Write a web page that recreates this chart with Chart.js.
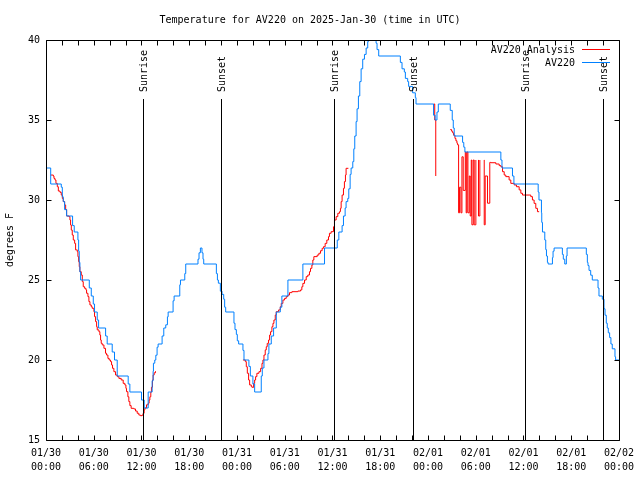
<!DOCTYPE html>
<html><head><meta charset="utf-8">
<script src="https://cdn.jsdelivr.net/npm/chart.js@4.4.1/dist/chart.umd.min.js"></script>
<style>html,body{margin:0;padding:0;background:#fff}canvas{display:block}</style>
</head><body>
<canvas id="c" width="640" height="480"></canvas>
<script>
// Hours since 2025-01-30 00:00 UTC
const blueHours = [0,0.59,1.92,2.05,2.17,2.34,2.59,3.34,3.55,4.01,4.10,4.18,4.26,4.35,5.44,5.69,5.94,6.10,6.44,6.61,7.49,7.69,8.32,8.61,8.95,10.33,10.54,12.00,12.34,12.84,13.34,13.46,13.50,13.67,13.80,13.96,14.09,14.59,14.80,15.05,15.26,15.35,15.97,16.10,16.81,16.90,17.44,17.56,19.10,19.23,19.40,19.60,19.73,19.82,21.41,21.54,21.66,21.91,22.12,22.33,22.45,22.58,23.62,23.75,23.92,24.04,24.21,24.75,24.88,25.50,25.68,26.00,26.22,27.05,27.18,27.39,27.89,28.01,28.31,28.60,28.94,29.44,29.64,30.40,32.28,35.00,36.60,36.80,37.21,37.38,37.59,37.71,37.92,38.05,38.22,38.34,38.55,38.68,38.80,38.97,39.09,39.26,39.43,39.60,39.80,40.02,40.23,40.43,40.51,41.00,41.48,41.60,41.81,44.53,44.74,45.03,45.16,45.45,45.57,46.07,46.41,46.50,48.70,48.90,49.13,49.30,50.80,51.05,51.18,51.30,52.35,52.50,52.64,57.16,57.30,58.62,58.80,61.85,61.95,62.26,62.30,62.39,62.68,62.80,62.89,63.01,63.10,63.64,63.72,63.85,64.89,65.01,65.19,65.39,65.48,67.90,68.03,68.11,68.24,68.45,68.65,69.37,69.49,69.91,70.12,70.25,70.41,70.53,70.66,70.83,70.99,71.16,71.50,71.58,72.00];
const blueTemps = [32,31,30.8,30.2,29.9,29.4,29,28.4,28,27.5,26.8,26.1,25.5,25,24.5,24,23.5,23,22.5,22,21.5,21,20.5,20,19,18.5,18,17.5,17,18,18.7,19.3,19.8,20,20.3,20.8,21,21.5,22,22.2,22.7,23,23.7,24,24.7,25,25.4,26,26.3,26.7,27,26.7,26.3,26,25.4,25,24.8,24.3,24.1,23.8,23.3,23,22.3,21.9,21.6,21.2,21,20.6,20,19.6,19,18.5,18,19,19.5,20,20.4,21,21.5,22,23,23.3,24,25,26,27,27.5,28,28.4,29,29.5,29.9,30.1,30.7,31.6,32,32.4,33.2,34,34.9,35.7,36.5,37.4,38.2,38.8,39.1,39.5,39.9,40.6,41,39.8,39.4,39,38.6,38.2,38,37.6,37.4,37.1,36.7,36.4,36,35.3,35,35.5,36,35.6,35,34.5,34,33.6,33.3,33,32.5,32,31.5,31,30.5,30,29.2,28.6,28,27.5,26.9,26.5,26.1,26,26.4,26.8,27,26.6,26.3,26,26.5,27,26.6,26.1,25.9,25.6,25.3,25,24.5,24,23.8,23.2,22.8,22.3,22,21.7,21.4,21,20.7,20.2,20,20];

const redHours = [0.585,0.92,1.00,1.13,1.25,1.42,1.55,1.76,1.92,2.05,2.17,2.34,2.47,2.59,2.89,3.01,3.09,3.18,3.30,3.43,3.60,3.72,3.93,4.01,4.10,4.18,4.26,4.43,4.56,4.68,4.85,5.02,5.10,5.27,5.39,5.52,5.69,5.81,6.02,6.10,6.23,6.36,6.44,6.65,6.77,6.86,6.94,7.07,7.28,7.48,7.61,7.78,7.94,8.11,8.24,8.36,8.53,8.74,8.95,9.16,9.45,9.70,9.91,10.04,10.12,10.29,10.41,10.54,10.70,11.04,11.25,11.46,11.67,11.87,12.08,12.21,12.33,12.42,12.63,12.84,12.96,13.05,13.17,13.25,13.38,13.46,13.59,13.76,14.00,
24.75,25.05,25.17,25.30,25.46,25.59,25.80,25.92,26.09,26.22,26.34,26.50,26.76,26.97,27.14,27.26,27.39,27.55,27.68,27.80,27.97,28.10,28.22,28.39,28.52,28.64,28.81,28.93,29.23,29.44,29.56,29.77,29.98,30.19,30.40,30.60,30.90,31.65,31.99,32.15,32.28,32.49,32.70,32.90,33.11,33.24,33.41,33.53,33.66,34.08,34.29,34.50,34.70,34.87,35.08,35.29,35.50,35.62,35.83,36.13,36.25,36.46,36.67,36.88,37.00,37.09,37.21,37.38,37.50,37.63,37.71,38.00,38.10,
48.72,48.85,48.98,49.05,
50.80,50.97,51.10,51.22,51.39,51.51,51.64,51.72,51.85,51.97,52.14,52.27,52.43,52.69,52.80,52.90,53.02,53.19,53.31,53.44,53.52,53.69,53.81,54.02,54.10,
54.33,54.35,54.52,54.60,
55.05,55.07,55.19,55.48,55.77,55.90,56.53,56.95,57.16,57.37,57.58,57.78,58.20,58.41,58.83,59.12,59.46,59.67,59.88,60.71,60.92,61.13,61.34,61.55,61.76,61.97];
const redTemps = [31.56,31.5,31.35,31.25,31.04,30.83,30.56,30.48,30.31,30.1,29.9,29.69,29.4,29.0,28.96,28.75,28.44,28.12,27.81,27.5,27.29,26.88,26.77,26.46,26.15,25.83,25.52,25.31,24.9,24.58,24.48,24.38,24.17,23.96,23.65,23.44,23.33,23.23,23.02,22.71,22.4,22.08,21.88,21.77,21.56,21.25,21.04,20.94,20.73,20.42,20.31,20.1,20.0,19.9,19.69,19.48,19.27,19.06,18.96,18.85,18.75,18.54,18.44,18.23,18.02,17.7,17.4,17.15,16.98,16.94,16.81,16.67,16.56,16.52,16.56,16.67,16.88,17.0,17.2,17.3,17.5,17.7,18.0,18.3,18.75,19.06,19.2,19.3,null,
20.0,19.9,19.58,19.17,18.75,18.44,18.33,18.29,18.54,18.75,18.96,19.17,19.27,19.48,19.79,20.0,20.31,20.63,20.83,21.04,21.25,21.56,21.77,22.08,22.29,22.5,22.81,23.02,23.13,23.33,23.54,23.75,23.85,23.96,24.06,24.21,24.27,24.31,24.38,24.58,24.79,25.0,25.21,25.31,25.52,25.73,25.94,26.25,26.46,26.56,26.67,26.83,26.98,27.08,27.29,27.5,27.71,27.92,28.02,28.33,28.75,28.96,29.17,29.27,29.48,29.9,30.31,30.73,31.15,31.56,31.98,31.98,null,
36.0,35.0,31.5,null,
34.4,34.3,34.2,34.05,33.85,33.7,33.55,33.45,29.2,30.8,29.2,32.7,30.6,33.0,29.2,33.0,29.2,31.5,29.0,32.5,28.45,32.5,28.45,32.5,null,
32.5,29.0,32.5,null,
32.5,28.45,31.5,29.8,32.35,32.33,32.25,32.15,32.08,31.77,31.56,31.46,31.25,31.04,30.94,30.83,30.63,30.42,30.31,30.31,30.21,30.0,29.79,29.48,29.27,29.27];

const xTickHours = [0,6,12,18,24,30,36,42,48,54,60,66,72];
const xTickDates = ['01/30','01/30','01/30','01/30','01/31','01/31','01/31','01/31','02/01','02/01','02/01','02/01','02/02'];
const xTickTimes = ['00:00','06:00','12:00','18:00','00:00','06:00','12:00','18:00','00:00','06:00','12:00','18:00','00:00'];
const sunHours = [12.2,22.04,36.17,46.08,60.25,70.03];
const sunLabels = ['Sunrise','Sunset','Sunrise','Sunset','Sunrise','Sunset'];
const seriesNames = ['AV220 Analysis','AV220'];
const seriesColors = ['#ff0000','#0080ff'];
const titleText = 'Temperature for AV220 on 2025-Jan-30 (time in UTC)';
const yTitle = 'degrees F';

const FONT = "'DejaVu Sans Mono', 'Liberation Mono', monospace";
Chart.defaults.font.family = FONT;
Chart.defaults.font.size = 10;
Chart.defaults.color = '#000';

const blueData = blueHours.map((h,i)=>({x:h,y:blueTemps[i]}));
const redData = redHours.map((h,i)=>({x:h,y:redTemps[i]}));

const framePlugin = {
  id:'frame',
  beforeDatasetsDraw(chart){
    // snap line vertices to pixel centres so 1px lines render crisp like the original
    const c = chart.ctx;
    const ml = CanvasRenderingContext2D.prototype.lineTo, mm = CanvasRenderingContext2D.prototype.moveTo;
    c.lineTo = function(x,y){ ml.call(this, Math.round(x)+0.5, Math.round(y)+0.5); };
    c.moveTo = function(x,y){ mm.call(this, Math.round(x)+0.5, Math.round(y)+0.5); };
  },
  afterDatasetsDraw(chart){
    const ctx = chart.ctx, a = chart.chartArea, xs = chart.scales.x, ys = chart.scales.y;
    delete ctx.lineTo; delete ctx.moveTo;
    ctx.save();
    ctx.strokeStyle = '#000'; ctx.lineWidth = 1;
    // sunrise / sunset markers
    ctx.font = '10px ' + FONT; ctx.fillStyle = '#000';
    sunHours.forEach((h,i)=>{
      const px = Math.round(xs.getPixelForValue(h)) + 0.5;
      ctx.beginPath(); ctx.moveTo(px, 99); ctx.lineTo(px, a.bottom); ctx.stroke();
      ctx.save(); ctx.translate(px + 1, 92); ctx.rotate(-Math.PI/2);
      ctx.textAlign = 'left'; ctx.textBaseline = 'middle';
      ctx.fillText(sunLabels[i], 0, 0); ctx.restore();
    });
    // frame
    const L = Math.round(a.left)+0.5, R = Math.round(a.right)+0.5, T = Math.round(a.top)+0.5, B = Math.round(a.bottom)+0.5;
    ctx.beginPath(); ctx.rect(L, T, R-L, B-T); ctx.stroke();
    // inward ticks
    ctx.beginPath();
    for (let h = 0; h <= 72; h += 2) {
      const px = Math.round(xs.getPixelForValue(h)) + 0.5;
      ctx.moveTo(px, B); ctx.lineTo(px, B-5);
      ctx.moveTo(px, T); ctx.lineTo(px, T+5);
    }
    for (let v = 15; v <= 40; v += 5) {
      const py = Math.round(ys.getPixelForValue(v)) + 0.5;
      ctx.moveTo(L, py); ctx.lineTo(L+5, py);
      ctx.moveTo(R, py); ctx.lineTo(R-5, py);
    }
    ctx.stroke();
    // legend (text left of sample line, as in the original)
    ctx.textAlign = 'right'; ctx.textBaseline = 'middle';
    const ly = [50, 63];
    seriesNames.forEach((n,i)=>{
      ctx.fillStyle = '#000';
      ctx.fillText(n, 575, ly[i]);
      ctx.strokeStyle = seriesColors[i];
      ctx.beginPath(); ctx.moveTo(582, ly[i]-0.5); ctx.lineTo(610, ly[i]-0.5); ctx.stroke();
    });
    ctx.restore();
  }
};

new Chart(document.getElementById('c'), {
  type:'line',
  data:{ datasets:[
    { label:seriesNames[0], data:redData, borderColor:seriesColors[0], borderWidth:1, pointRadius:0, stepped:true, spanGaps:false, order:2, fill:false },
    { label:seriesNames[1], data:blueData, borderColor:seriesColors[1], borderWidth:1, pointRadius:0, stepped:true, order:1, fill:false }
  ]},
  options:{
    responsive:false, animation:false, events:[],
    layout:{ padding:{ left:0, right:20, top:0, bottom:0 } },
    plugins:{
      legend:{ display:false }, tooltip:{ enabled:false },
      title:{ display:true, text:titleText, color:'#000', font:{ size:10, weight:'normal', family:FONT, lineHeight:1.2 }, padding:{ top:14, bottom:14 } }
    },
    scales:{
      x:{ type:'linear', min:0, max:72, grid:{ display:false, drawTicks:false }, border:{ display:false },
          ticks:{ stepSize:6, autoSkip:false, maxRotation:0, minRotation:0, padding:6, color:'#000',
                  font:{ size:10, family:FONT, lineHeight:1.4 },
                  callback:(v)=>{ const i = xTickHours.indexOf(v); return i < 0 ? '' : [xTickDates[i], xTickTimes[i]]; } },
          afterFit:(s)=>{ s.height = 40; } },
      y:{ min:15, max:40, grid:{ display:false, drawTicks:false }, border:{ display:false },
          ticks:{ stepSize:5, padding:6, color:'#000', font:{ size:10, family:FONT } },
          title:{ display:true, text:yTitle, color:'#000', font:{ size:10, family:FONT, lineHeight:1.2 }, padding:{ top:4, bottom:0 } },
          afterFit:(s)=>{ s.width = 46; } }
    }
  },
  plugins:[framePlugin]
});
</script>
</body></html>
